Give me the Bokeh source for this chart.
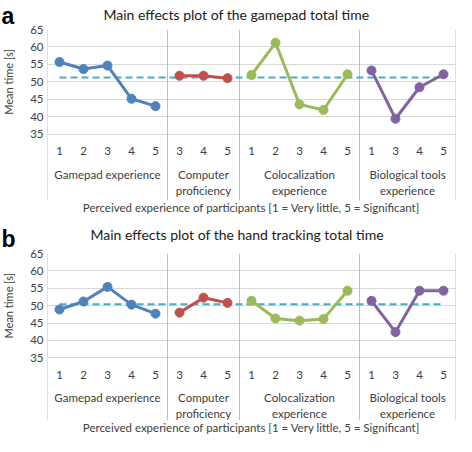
import math
from bokeh.plotting import figure
from bokeh.models import Range1d, FixedTicker, Label
from bokeh.layouts import column
from bokeh.embed import file_html
from bokeh.resources import INLINE
from bokeh.core.properties import value

FONT = "Lato"

# ---------------- data ----------------
group_names = [["Gamepad experience"], ["Computer", "proficiency"],
               ["Colocalization", "experience"], ["Biological tools", "experience"]]
group_levels = [["1", "2", "3", "4", "5"], ["3", "4", "5"],
                ["1", "2", "3", "4", "5"], ["1", "3", "4", "5"]]
group_colors = ["#4F81BD", "#C0504D", "#9BBB59", "#8064A2"]

a_title = "Main effects plot of the gamepad total time"
a_gamepad = [55.7, 53.7, 54.7, 45.2, 43.1]
a_computer = [51.8, 51.8, 51.1]
a_coloc = [52.0, 61.2, 43.6, 42.0, 52.2]
a_bio = [53.3, 39.5, 48.5, 52.2]
a_mean = 51.3

b_title = "Main effects plot of the hand tracking total time"
b_gamepad = [48.9, 51.2, 55.4, 50.3, 47.7]
b_computer = [48.0, 52.3, 50.8]
b_coloc = [51.4, 46.3, 45.7, 46.2, 54.3]
b_bio = [51.4, 42.4, 54.3, 54.3]
b_mean = 50.4

y_ticks = [35, 40, 45, 50, 55, 60, 65]
x_title = "Perceived experience of participants [1 = Very little, 5 = Significant]"
y_title = "Mean time [s]"

# slot positions derived from the group structure
bounds = [0]
for lv in group_levels:
    bounds.append(bounds[-1] + len(lv))
slots = []
for g, lv in enumerate(group_levels):
    slots.append([bounds[g] + i + 0.5 for i in range(len(lv))])
all_slots = [s for grp in slots for s in grp]
all_levels = [l for lv in group_levels for l in lv]
centers = [(bounds[i] + bounds[i + 1]) / 2 for i in range(len(group_levels))]

TXT = "#404040"


def make_panel(letter, title, series, mean, height, top, bottom, letter_off,
               title_off, title_standoff):
    ppu = 3.52
    frame_h = height - top - bottom
    y0 = y_ticks[-1] - frame_h / ppu
    p = figure(width=456, height=height, x_range=Range1d(0, bounds[-1]),
               y_range=Range1d(y0, y_ticks[-1]),
               min_border_left=40, min_border_right=1, min_border_top=top,
               min_border_bottom=bottom, toolbar_location=None,
               output_backend="svg", outline_line_color=None)
    p.title.text = title
    p.title.align = "left"
    p.title.vertical_align = "top"
    p.title.offset = title_off
    p.title.standoff = title_standoff
    p.title.text_font = FONT
    p.title.text_font_size = "14px"
    p.title.text_font_style = "normal"
    p.title.text_color = "#1a1a1a"

    # y axis
    p.yaxis.ticker = FixedTicker(ticks=y_ticks)
    p.yaxis.axis_line_color = None
    p.yaxis.major_tick_line_color = None
    p.yaxis.minor_tick_line_color = None
    p.yaxis.major_tick_out = 0
    p.yaxis.major_tick_in = 0
    p.yaxis.major_label_standoff = 4
    p.yaxis.major_label_text_font = FONT
    p.yaxis.major_label_text_font_size = "11.5px"
    p.yaxis.major_label_text_color = TXT
    p.ygrid.ticker = FixedTicker(ticks=y_ticks)
    p.ygrid.grid_line_color = "#d9d9d9"
    p.xgrid.visible = False

    # x axis: only its title
    p.xaxis.ticker = FixedTicker(ticks=[])
    p.xaxis.axis_line_color = None
    p.xaxis.major_tick_line_color = None
    p.xaxis.minor_tick_line_color = None
    p.xaxis.major_tick_out = 0
    p.xaxis.major_label_standoff = 0
    p.xaxis.major_label_text_font_size = "0px"
    p.xaxis.axis_label = x_title
    p.xaxis.axis_label_standoff = 0
    p.xaxis.axis_label_text_font = FONT
    p.xaxis.axis_label_text_font_size = "11.5px"
    p.xaxis.axis_label_text_font_style = "normal"
    p.xaxis.axis_label_text_color = TXT

    # separators
    p.segment(x0=bounds, y0=[y0] * len(bounds), x1=bounds, y1=[y_ticks[-1]] * len(bounds),
              line_color="#bfbfbf", line_width=1)

    # mean line
    p.line([all_slots[0], all_slots[-1]], [mean, mean], line_color="#4BACC6",
           line_width=2, line_dash="7 4")

    for g, vals in enumerate(series):
        p.line(slots[g], vals, line_color=group_colors[g], line_width=3)
        p.scatter(slots[g], vals, size=9, color=group_colors[g])

    # category tick labels
    p.text(x=all_slots, y=[30.2] * len(all_slots), text=all_levels,
           text_font=value(FONT), text_font_size="11.5px", text_color=TXT,
           text_align="center", text_baseline="middle")
    first = [n[0] for n in group_names]
    second = [n[1] if len(n) > 1 else "" for n in group_names]
    p.text(x=centers, y=[23.5] * 4, text=first,
           text_font=value(FONT), text_font_size="11.5px", text_color=TXT,
           text_align="center", text_baseline="middle")
    p.text(x=centers, y=[19.1] * 4, text=second,
           text_font=value(FONT), text_font_size="11.5px", text_color=TXT,
           text_align="center", text_baseline="middle")

    p.add_layout(Label(x=8, x_units="canvas", y=50, y_units="data", text=y_title,
                       angle=math.pi / 2, text_align="center", text_baseline="middle",
                       text_font=FONT, text_font_size="11px", text_color=TXT), "left")
    p.add_layout(Label(x=1, x_units="canvas", y=y_ticks[-1], y_units="data",
                       y_offset=letter_off, text=letter, text_baseline="alphabetic",
                       text_font="Liberation Sans", text_font_style="bold",
                       text_font_size="23px", text_color="#000000"), "left")
    return p


pa = make_panel("a", a_title, [a_gamepad, a_computer, a_coloc, a_bio], a_mean,
                216, 28, 16, 13.5, 56, 10)
pb = make_panel("b", b_title, [b_gamepad, b_computer, b_coloc, b_bio], b_mean,
                220, 37, 14, 15, 43, 18)

layout = column(pa, pb, spacing=0)
open("out.html", "w").write(file_html(layout, INLINE))
